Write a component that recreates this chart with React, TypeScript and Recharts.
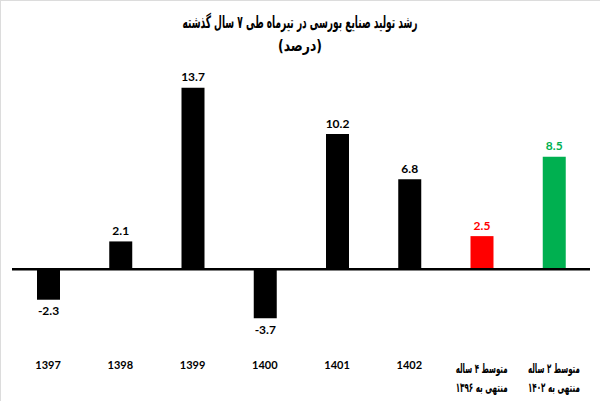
import { BarChart, Bar, XAxis, YAxis, Cell, LabelList, ReferenceLine } from 'recharts';

const categories = ['1397', '1398', '1399', '1400', '1401', '1402', 'avg4', 'avg2'];
const labelLine1 = ['1397', '1398', '1399', '1400', '1401', '1402', 'متوسط ۴ ساله', 'متوسط ۲ ساله'];
const labelLine2 = ['', '', '', '', '', '', 'منتهی به ۱۳۹۶', 'منتهی به ۱۴۰۲'];
const growth = [-2.3, 2.1, 13.7, -3.7, 10.2, 6.8, 2.5, 8.5];

const title = 'رشد تولید صنایع بورسی در تیرماه طی ۷ سال گذشته';
const subtitle = '(درصد)';

const BAR_COLORS = ['#000000', '#000000', '#000000', '#000000', '#000000', '#000000', '#ff0000', '#00b050'];

const data = categories.map((name, i) => ({ name, value: growth[i] }));

const FA_FONT = '"DejaVu Sans Condensed", "DejaVu Sans", sans-serif';
const NUM_FONT = 'Lato, "DejaVu Sans", sans-serif';

function CategoryTick(props: any) {
    const { x, y, index } = props;
    // persian labels: squeeze to the width of the original font
    if (index >= 6) {
        return (
            <g>
                <text
                    x={x}
                    y={y + 25}
                    textAnchor="middle"
                    dominantBaseline="central"
                    fontFamily={FA_FONT}
                    fontWeight="bold"
                    fontSize={13}
                    textLength={52}
                    lengthAdjust="spacingAndGlyphs"
                    fill="#000"
                >
                    {labelLine1[index]}
                </text>
                <text
                    x={x}
                    y={y + 44}
                    textAnchor="middle"
                    dominantBaseline="central"
                    fontFamily={FA_FONT}
                    fontWeight="bold"
                    fontSize={13}
                    textLength={52}
                    lengthAdjust="spacingAndGlyphs"
                    fill="#000"
                >
                    {labelLine2[index]}
                </text>
            </g>
        );
    }
    return (
        <text
            x={x}
            y={y + 21}
            textAnchor="middle"
            dominantBaseline="central"
            fontFamily={NUM_FONT}
            fontWeight="bold"
            fontSize={11}
            fill="#000"
        >
            {labelLine1[index]}
        </text>
    );
}

function ValueLabel(props: any) {
    const { x, y, width, height, value, index } = props;
    const top = Math.min(y, y + height);
    const bottom = Math.max(y, y + height);
    const ly = value >= 0 ? top - 11 : bottom + 11;
    return (
        <text
            x={x + width / 2}
            y={ly}
            textAnchor="middle"
            dominantBaseline="central"
            fontFamily={NUM_FONT}
            fontWeight="bold"
            fontSize={12}
            fill={BAR_COLORS[index]}
        >
            {value}
        </text>
    );
}

export default function App() {
    return (
        <div
            style={{
                position: 'absolute',
                left: 0,
                top: 0,
                width: 600,
                height: 401,
                background: '#fff',
                borderTop: '1px solid #dcdcdc',
                borderLeft: '1px solid #dcdcdc',
                boxSizing: 'border-box',
                overflow: 'hidden',
            }}
        >
            <div style={{ position: 'absolute', left: -1, top: -1 }}>
                <BarChart
                    width={600}
                    height={401}
                    data={data}
                    margin={{ top: 70.5, right: 10, bottom: 5.5, left: 12 }}
                >
                    <YAxis hide domain={[-5, 15]} />
                    <XAxis
                        dataKey="name"
                        axisLine={false}
                        tickLine={false}
                        height={60}
                        interval={0}
                        tick={<CategoryTick />}
                    />
                    <ReferenceLine y={0} stroke="#000" strokeWidth={2.5} />
                    <Bar dataKey="value" barSize={23} isAnimationActive={false}>
                        {data.map((entry, index) => (
                            <Cell key={`cell-${index}`} fill={BAR_COLORS[index]} />
                        ))}
                        <LabelList dataKey="value" content={<ValueLabel />} />
                    </Bar>
                </BarChart>
            </div>
            <svg
                width={600}
                height={60}
                style={{ position: 'absolute', left: -1, top: -1, pointerEvents: 'none' }}
            >
                <text
                    x={300}
                    y={22}
                    textAnchor="middle"
                    dominantBaseline="central"
                    fontFamily={FA_FONT}
                    fontWeight="bold"
                    fontSize={17}
                    textLength={235}
                    lengthAdjust="spacingAndGlyphs"
                    fill="#000"
                >
                    {title}
                </text>
                <text
                    x={300}
                    y={45}
                    textAnchor="middle"
                    dominantBaseline="central"
                    fontFamily={FA_FONT}
                    fontWeight="bold"
                    fontSize={16}
                    textLength={44}
                    lengthAdjust="spacingAndGlyphs"
                    fill="#000"
                >
                    {subtitle}
                </text>
            </svg>
        </div>
    );
}
